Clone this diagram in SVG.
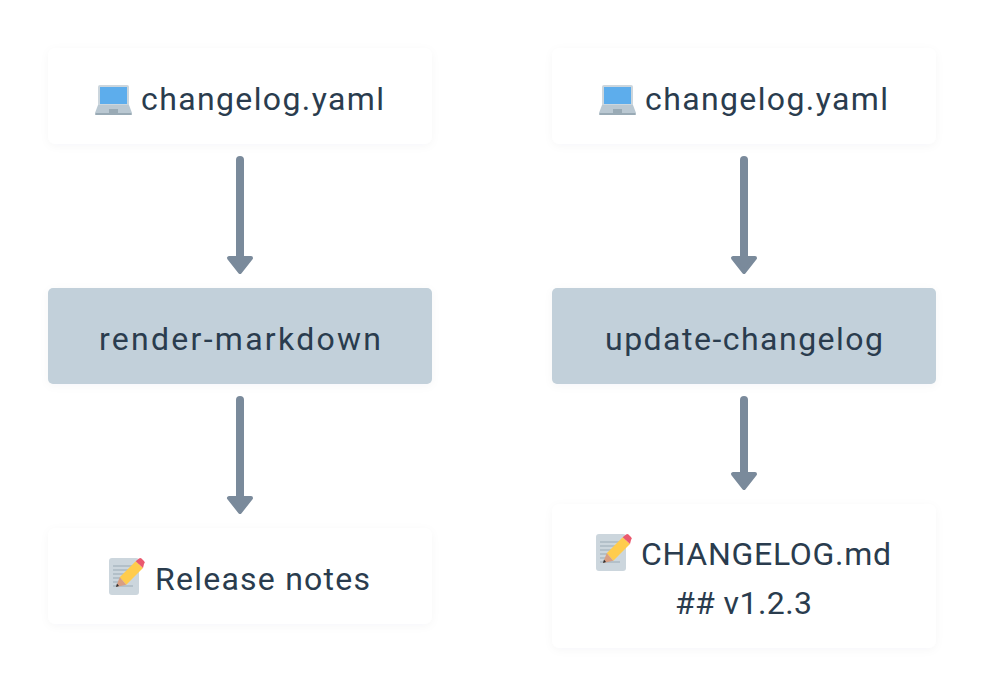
<svg xmlns="http://www.w3.org/2000/svg" width="984" height="696" viewBox="0 0 984 696">
<style>
.box{fill:#fff;filter:url(#sh)}
.proc{fill:#c2d0da;filter:url(#sh)}
text{font-family:Roboto,"Noto Sans","Liberation Sans",sans-serif;font-size:32px;fill:#2a3c4e}
.wire{stroke:#7a8a9b;stroke-width:8;stroke-linecap:round;fill:none}
.head{fill:#7a8a9b;stroke:#7a8a9b;stroke-width:4;stroke-linejoin:round}
</style>
<defs>
<filter id="sh" x="-10%" y="-20%" width="120%" height="140%"><feDropShadow dx="0" dy="2" stdDeviation="4" flood-color="#334" flood-opacity="0.035"/></filter>
<symbol id="laptop" viewBox="0 0 37 33" overflow="visible">
<path d="M5 3h27a2 2 0 0 1 2 2v19H3V5a2 2 0 0 1 2-2z" fill="#ccd6dd"/>
<rect x="5" y="5" width="27" height="17" fill="#5dadec"/>
<path d="M3 23h31l3 8H0z" fill="#bac8d2"/>
<rect x="0" y="31" width="37" height="2" rx="1" fill="#99aab5"/>
<rect x="14" y="27" width="9" height="4" fill="#99aab5"/>
</symbol>
<symbol id="memo" viewBox="0 0 36 36" overflow="visible">
<rect x="0" y="-1" width="30" height="37" rx="3" fill="#ccd6dd"/>
<path d="M4 7h22M4 11h22M4 15h18M4 19h12M4 23h8M4 27h20" stroke="#99aab5" stroke-width="1.2"/>
<path d="M10.700 18.300L26.700 2.300 34 9 17.300 25.700z" fill="#ffcc4d"/>
<path d="M26.700 2.300L30 -.5a2 2 0 0 1 2.500 0l2.500 2.500a2 2 0 0 1 0 3L34 9z" fill="#ea596e"/>
<path d="M10.700 18.300L17.300 25.700 7 28z" fill="#d99e82"/>
<path d="M8 24.500L10 27 7 28z" fill="#292f33"/>
</symbol>
</defs>
<g id="n1"><rect class="box" x="48" y="48" width="384" height="96" rx="8"/><use href="#laptop" x="95" y="82" width="37" height="33"/><text x="141" y="110" textLength="243">changelog.yaml</text></g>
<g id="n2"><rect class="box" x="552" y="48" width="384" height="96" rx="8"/><use href="#laptop" x="599" y="82" width="37" height="33"/><text x="645" y="110" textLength="243">changelog.yaml</text></g>
<g id="n3"><rect class="proc" x="48" y="288" width="384" height="96" rx="5"/><text x="99" y="350" textLength="282">render-markdown</text></g>
<g id="n4"><rect class="proc" x="552" y="288" width="384" height="96" rx="5"/><text x="605" y="350" textLength="278">update-changelog</text></g>
<g id="n5"><rect class="box" x="48" y="528" width="384" height="96" rx="8"/><use href="#memo" x="109" y="559" width="36" height="36"/><text x="155" y="590" textLength="215">Release notes</text></g>
<g id="n6"><rect class="box" x="552" y="504" width="384" height="144" rx="8"/><use href="#memo" x="596" y="535" width="36" height="36"/><text x="641" y="565" textLength="250">CHANGELOG.md</text><text x="675" y="614" textLength="137">## v1.2.3</text></g>
<g id="connectors">
<path class="wire" d="M240 160V258"/><path class="head" d="M229 258H251L240 272z"/>
<path class="wire" d="M744 160V258"/><path class="head" d="M733 258H755L744 272z"/>
<path class="wire" d="M240 400V498"/><path class="head" d="M229 498H251L240 512z"/>
<path class="wire" d="M744 400V474"/><path class="head" d="M733 474H755L744 488z"/>
</g>
</svg>
